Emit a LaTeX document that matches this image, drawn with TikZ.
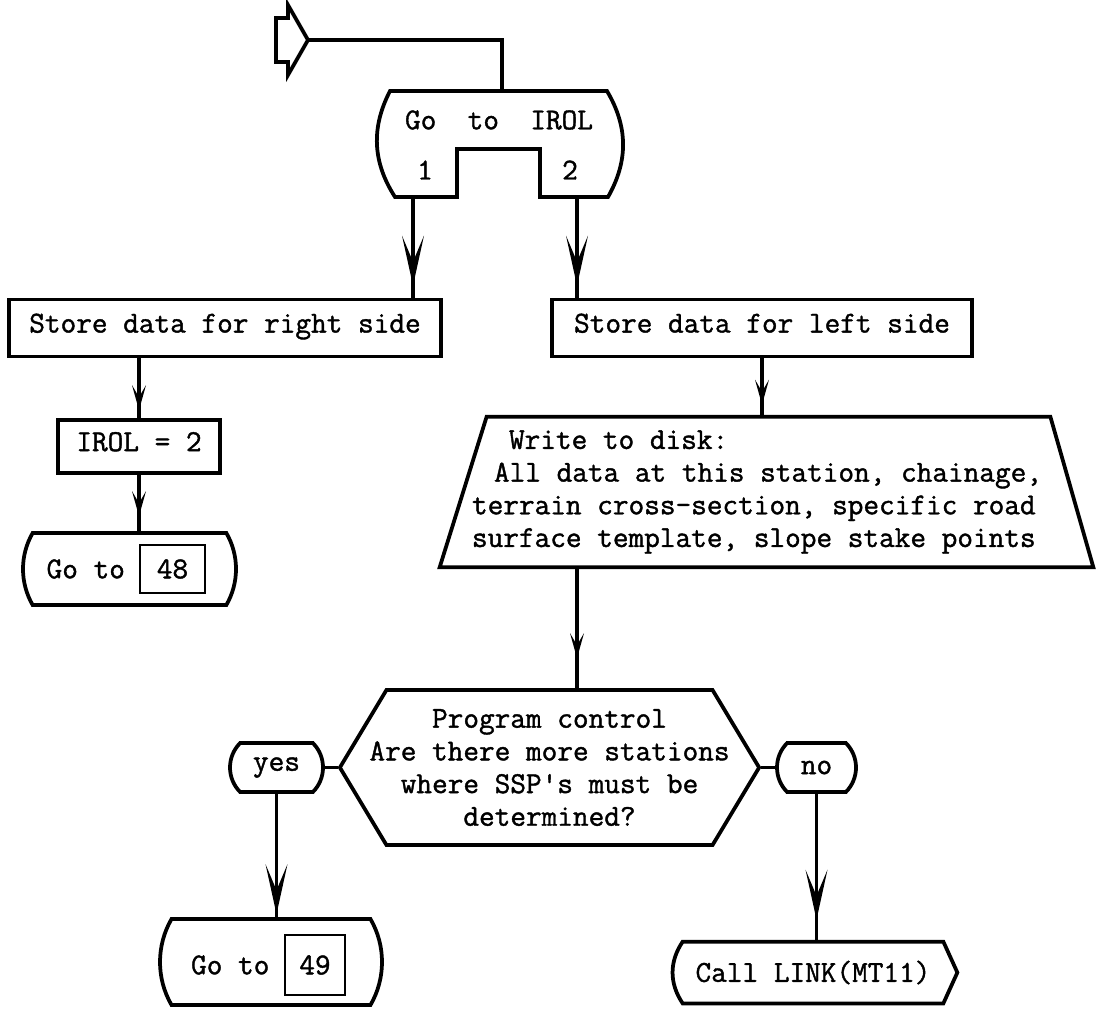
\documentclass[tikz,border=0pt]{standalone}
\usepackage{fontspec}
\setmonofont{Latin Modern Mono}[FakeBold=1.3]
\usetikzlibrary{shapes,shapes.geometric,shapes.misc,shapes.symbols,arrows.meta,positioning,calc}

\tikzset{
  box/.style={draw, line width=0.75mm, inner sep=0pt, text height=1.6ex, text depth=0.4ex},
  term/.style={draw, rounded rectangle, rounded rectangle arc length=#1, line width=0.75mm, inner sep=0pt},
  numbox/.style={draw, line width=0.55mm, inner sep=0pt},
  wire/.style={line width=0.75mm},
  bigarr/.style={wire, postaction={draw, -{Stealth[length=10mm,width=4.4mm,inset=5.2mm,line width=0pt]}, shorten >=#1}},
  smallarr/.style={wire, postaction={draw, -{Stealth[length=5mm,width=2.8mm,inset=2.4mm,line width=0pt]}, shorten >=#1}}
}

\begin{document}
\begin{tikzpicture}[x=0.2mm, y=-0.2mm, every node/.style={font=\ttfamily\fontsize{17.3}{18.6}\selectfont}]
            \useasboundingbox (0,0) rectangle (1103,1008);

            % Entry
            \draw[wire, line join=miter] (288,18) -- (276,18) -- (276,62) -- (288,62) -- (288,75) -- (308,40) -- (288,5) -- cycle;
            \coordinate (entry) at (308,40);

            % Switch on IROL
            \coordinate (swin) at (502,91);
            \coordinate (sw1) at (413,197);
            \coordinate (sw2) at (577,197);
            \draw[wire] (390,91) -- (607,91) to[bend left=30] (608,197) -- (540,197) -- (540,149) -- (457,149) -- (457,197) -- (395,197) to[bend left=30] (390,91) -- cycle;
            \node (sw) at (499,120) {Go~~to~~IROL};
            \node (swa) at (425,170) {1};
            \node (swb) at (570,170) {2};

            % Right side
            \node[box, minimum width=86.4mm, minimum height=11.4mm] (rbox) at (225,328) {Store data for right side};
            \node[box, minimum width=32.4mm, minimum height=10.6mm] (irol) at (139,446.5) {IROL = 2};
            \node[term=60, minimum width=42.6mm, minimum height=14.4mm] (go48) at (129.5,569) {};
            \node[numbox, minimum width=13mm, minimum height=9.6mm] (n48) at (172.5,569) {48};
            \node[left=1.5mm of n48] (t48) {Go to};

            % Left side
            \node[box, minimum width=84mm, minimum height=11.4mm] (lbox) at (762,328) {Store data for left side};
            \node[minimum width=112.6mm, minimum height=30mm, inner sep=0pt] (disk) at (768.5,492) {};
            \draw[wire] ($(disk.south west)+(-47,0)$) -- (disk.north west) -- (disk.north east) -- ($(disk.south east)+(43,0)$) -- cycle;
            \node[align=left, inner sep=0pt] (disktxt) at (757,492)
                  {\hspace*{7.4mm}Write to disk:\\\hspace*{4.4mm}All data at this station, chainage,\\terrain cross-section, specific road\\surface template, slope stake points};

            % Program control
            \node[box, signal, signal to=east and west, signal pointer angle=118, inner xsep=-3.4mm,
                  text height=, text depth=, minimum height=31mm, align=center] (ctrl) at (549.5,767.5)
                  {Program control\\Are there more stations\\where SSP\textquotesingle s must be\\determined?};
            \node[term=90, minimum width=18.6mm, minimum height=9.8mm] (yes) at (276.5,767.5) {yes};
            \node[term=90, minimum width=15.8mm, minimum height=9.8mm] (no) at (816.5,767.5) {no};

            \node[term=60, minimum width=44.4mm, minimum height=17.2mm] (go49) at (271,962) {};
            \node[numbox, minimum width=12mm, minimum height=12mm] (n49) at (315,965) {49};
            \node[left=1.6mm of n49] (t49) {Go to};

            \node[minimum width=52mm, minimum height=12.2mm, inner sep=0pt] (call) at (813,972.5) {Call LINK(MT11)};
            \draw[wire] (call.north west) to[bend right=34] (call.south west) -- (call.south east) -- ($(call.east)+(14,0)$) -- (call.north east) -- cycle;

            % Arrows
            \draw[wire] (entry) -| (swin);
            \draw[bigarr=2.4mm] (sw1) -- (sw1 |- rbox.north);
            \draw[bigarr=2.4mm] (sw2) -- (sw2 |- lbox.north);
            \draw[smallarr=1.6mm] (irol.north |- rbox.south) -- (irol.north);
            \draw[smallarr=3mm] (irol.south) -- (irol.south |- go48.north);
            \draw[smallarr=2.4mm] (lbox.south) -- (lbox.south |- disk.north);
            \draw[smallarr=6mm] (disk.south -| sw2) -- (ctrl.north -| sw2);
            \draw[wire] (yes.east) -- (ctrl.west);
            \draw[wire] (ctrl.east) -- (no.west);
            \draw[bigarr=0.6mm] (yes.south) -- (yes.south |- go49.north);
            \draw[bigarr=4.4mm] (no.south) -- (no.south |- call.north);
\end{tikzpicture}
\end{document}
